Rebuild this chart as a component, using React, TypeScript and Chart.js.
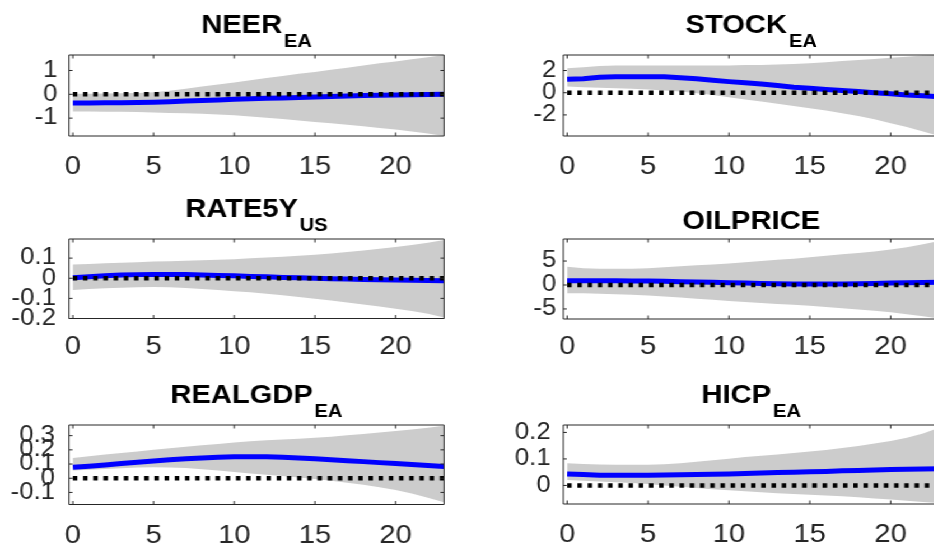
import React, { useEffect, useRef } from "react";
import { Chart, registerables } from "chart.js";

Chart.register(...registerables);

// ---------------- data ----------------
const horizon = [0, 1, 2, 3, 4, 5, 6, 7, 8, 9, 10, 11, 12, 13, 14, 15, 16, 17, 18, 19, 20, 21, 22, 23];
const xTickValues = [0, 5, 10, 15, 20];

const neerMid = [-0.36, -0.36, -0.35, -0.35, -0.34, -0.33, -0.31, -0.28, -0.26, -0.24, -0.21, -0.19, -0.17, -0.15, -0.13, -0.11, -0.09, -0.07, -0.05, -0.04, -0.03, -0.02, -0.01, 0.0];
const neerUp = [0.02, 0.02, 0.03, 0.04, 0.05, 0.09, 0.15, 0.23, 0.33, 0.41, 0.5, 0.59, 0.68, 0.77, 0.86, 0.94, 1.03, 1.12, 1.21, 1.3, 1.38, 1.47, 1.56, 1.65];
const neerLo = [-0.72, -0.72, -0.73, -0.73, -0.74, -0.76, -0.78, -0.8, -0.82, -0.85, -0.88, -0.93, -0.98, -1.04, -1.1, -1.16, -1.22, -1.28, -1.34, -1.41, -1.48, -1.56, -1.65, -1.75];
const neerTicks = [-1, 0, 1];

const stockMid = [1.22, 1.25, 1.4, 1.43, 1.45, 1.45, 1.43, 1.35, 1.25, 1.12, 1.0, 0.9, 0.79, 0.65, 0.5, 0.4, 0.3, 0.2, 0.1, 0.0, -0.1, -0.2, -0.28, -0.36];
const stockUp = [2.2, 2.3, 2.4, 2.45, 2.45, 2.45, 2.45, 2.45, 2.45, 2.45, 2.45, 2.5, 2.5, 2.55, 2.6, 2.65, 2.75, 2.85, 2.95, 3.05, 3.15, 3.25, 3.35, 3.4];
const stockLo = [0.55, 0.5, 0.45, 0.4, 0.35, 0.3, 0.2, 0.1, -0.05, -0.2, -0.4, -0.6, -0.8, -1.0, -1.2, -1.4, -1.6, -1.85, -2.1, -2.4, -2.75, -3.1, -3.5, -3.9];
const stockTicks = [-2, 0, 2];

const rateMid = [0.002, 0.008, 0.012, 0.016, 0.018, 0.019, 0.019, 0.018, 0.016, 0.014, 0.012, 0.009, 0.007, 0.004, 0.002, 0.0, -0.002, -0.004, -0.006, -0.008, -0.009, -0.01, -0.011, -0.012];
const rateUp = [0.068, 0.071, 0.074, 0.077, 0.08, 0.083, 0.085, 0.087, 0.089, 0.092, 0.095, 0.099, 0.103, 0.107, 0.112, 0.117, 0.123, 0.13, 0.138, 0.146, 0.155, 0.165, 0.176, 0.19];
const rateLo = [-0.058, -0.054, -0.05, -0.047, -0.045, -0.044, -0.045, -0.048, -0.053, -0.058, -0.064, -0.07, -0.077, -0.085, -0.093, -0.102, -0.111, -0.12, -0.13, -0.14, -0.151, -0.163, -0.177, -0.195];
const rateTicks = [-0.2, -0.1, 0, 0.1];

const oilMid = [0.9, 0.9, 0.88, 0.87, 0.85, 0.82, 0.78, 0.7, 0.62, 0.55, 0.47, 0.4, 0.33, 0.27, 0.22, 0.2, 0.2, 0.22, 0.27, 0.33, 0.4, 0.47, 0.52, 0.55];
const oilUp = [3.8, 3.5, 3.4, 3.4, 3.4, 3.5, 3.7, 3.9, 4.1, 4.3, 4.5, 4.75, 5.0, 5.25, 5.5, 5.8, 6.1, 6.4, 6.7, 7.0, 7.4, 7.9, 8.5, 9.2];
const oilLo = [-1.7, -1.75, -1.85, -1.95, -2.05, -2.2, -2.4, -2.6, -2.85, -3.1, -3.35, -3.55, -3.75, -3.95, -4.15, -4.35, -4.6, -4.85, -5.1, -5.4, -5.7, -6.1, -6.5, -7.0];
const oilTicks = [-5, 0, 5];

const gdpMid = [0.077, 0.085, 0.094, 0.103, 0.113, 0.122, 0.13, 0.137, 0.143, 0.148, 0.151, 0.152, 0.151, 0.148, 0.143, 0.137, 0.131, 0.124, 0.117, 0.11, 0.103, 0.096, 0.089, 0.083];
const gdpUp = [0.143, 0.155, 0.167, 0.178, 0.189, 0.2, 0.211, 0.222, 0.232, 0.242, 0.252, 0.26, 0.267, 0.273, 0.279, 0.285, 0.293, 0.302, 0.312, 0.322, 0.333, 0.344, 0.356, 0.37];
const gdpLo = [0.055, 0.06, 0.065, 0.07, 0.075, 0.077, 0.076, 0.072, 0.064, 0.054, 0.044, 0.034, 0.025, 0.016, 0.006, -0.005, -0.017, -0.031, -0.046, -0.063, -0.082, -0.108, -0.137, -0.17];
const gdpTicks = [-0.1, 0, 0.1, 0.2, 0.3];

const hicpMid = [0.043, 0.041, 0.038, 0.038, 0.038, 0.038, 0.039, 0.04, 0.041, 0.042, 0.043, 0.045, 0.047, 0.049, 0.05, 0.052, 0.053, 0.055, 0.056, 0.058, 0.06, 0.061, 0.062, 0.063];
const hicpUp = [0.084, 0.081, 0.079, 0.078, 0.078, 0.078, 0.08, 0.084, 0.089, 0.095, 0.101, 0.107, 0.112, 0.117, 0.122, 0.128, 0.134, 0.141, 0.149, 0.158, 0.168, 0.18, 0.196, 0.218];
const hicpLo = [0.021, 0.018, 0.015, 0.012, 0.009, 0.005, 0.0, -0.005, -0.01, -0.014, -0.018, -0.022, -0.026, -0.029, -0.032, -0.035, -0.038, -0.041, -0.045, -0.049, -0.053, -0.058, -0.062, -0.066];
const hicpTicks = [0, 0.1, 0.2];

const zeroLine = [0, 0, 0, 0, 0, 0, 0, 0, 0, 0, 0, 0, 0, 0, 0, 0, 0, 0, 0, 0, 0, 0, 0, 0];

// ---------------- layout ----------------
const K = 1.12; // horizontal stretch of the original figure
const FONT = '"Liberation Sans", Arial, Helvetica, sans-serif';
const AXIS_COLOR = "#262626";

type PanelDef = {
  title: string;
  sub: string;
  mid: number[];
  up: number[];
  lo: number[];
  yTicks: number[];
  yMin: number;
  yMax: number;
  // page-pixel layout
  cL: number; cT: number; cW: number; cH: number;
  pL: number; pT: number; pR: number; pB: number;
  yGap: number; xPad: number;
};

const panels: PanelDef[] = [
  { title: "NEER", sub: "EA", mid: neerMid, up: neerUp, lo: neerLo, yTicks: neerTicks, yMin: -1.75, yMax: 1.65,
    cL: 0, cT: 0, cW: 467, cH: 184, pL: 69, pT: 55, pR: 444, pB: 136, yGap: 11.5, xPad: 18 },
  { title: "STOCK", sub: "EA", mid: stockMid, up: stockUp, lo: stockLo, yTicks: stockTicks, yMin: -3.9, yMax: 3.4,
    cL: 467, cT: 0, cW: 478, cH: 184, pL: 563, pT: 55, pR: 938, pB: 136, yGap: 7, xPad: 18 },
  { title: "RATE5Y", sub: "US", mid: rateMid, up: rateUp, lo: rateLo, yTicks: rateTicks, yMin: -0.2, yMax: 0.195,
    cL: 0, cT: 184, cW: 467, cH: 184, pL: 69, pT: 239, pR: 444, pB: 318.5, yGap: 13, xPad: 15 },
  { title: "OILPRICE", sub: "", mid: oilMid, up: oilUp, lo: oilLo, yTicks: oilTicks, yMin: -7.1, yMax: 9.6,
    cL: 467, cT: 184, cW: 478, cH: 184, pL: 563, pT: 239, pR: 938, pB: 319, yGap: 7, xPad: 15 },
  { title: "REALGDP", sub: "EA", mid: gdpMid, up: gdpUp, lo: gdpLo, yTicks: gdpTicks, yMin: -0.185, yMax: 0.375,
    cL: 0, cT: 368, cW: 467, cH: 184, pL: 69, pT: 425, pR: 444, pB: 504.5, yGap: 14, xPad: 18 },
  { title: "HICP", sub: "EA", mid: hicpMid, up: hicpUp, lo: hicpLo, yTicks: hicpTicks, yMin: -0.07, yMax: 0.228,
    cL: 467, cT: 368, cW: 478, cH: 184, pL: 563, pT: 425, pR: 938, pB: 504, yGap: 12.5, xPad: 18 },
];

const X_MIN = -0.24;
const X_MAX = 23;

const framePlugin = {
  id: "matlabFrame",
  afterDatasetsDraw(chart: any) {
    const { ctx, chartArea } = chart;
    const xs = chart.scales.x;
    const ys = chart.scales.y;
    const { left, right, top, bottom } = chartArea;
    ctx.save();
    ctx.strokeStyle = AXIS_COLOR;
    ctx.lineWidth = 1;
    ctx.beginPath();
    ctx.rect(left, top, right - left, bottom - top);
    ctx.stroke();
    const tl = 3.5;
    ctx.beginPath();
    for (const t of xs.ticks) {
      const px = xs.getPixelForValue(t.value);
      ctx.moveTo(px, bottom);
      ctx.lineTo(px, bottom - tl);
      ctx.moveTo(px, top);
      ctx.lineTo(px, top + tl);
    }
    for (const t of ys.ticks) {
      const py = ys.getPixelForValue(t.value);
      ctx.moveTo(left, py);
      ctx.lineTo(left + tl / K, py);
      ctx.moveTo(right, py);
      ctx.lineTo(right - tl / K, py);
    }
    ctx.stroke();
    ctx.restore();
  },
  afterDraw(chart: any, _args: any, opts: any) {
    const { ctx, chartArea } = chart;
    const main: string = opts.title;
    const sub: string = opts.sub;
    ctx.save();
    ctx.fillStyle = "#000";
    ctx.textAlign = "left";
    ctx.textBaseline = "alphabetic";
    ctx.font = `bold 26px ${FONT}`;
    const mw = ctx.measureText(main).width;
    ctx.font = `bold 18px ${FONT}`;
    const sw = sub ? ctx.measureText(sub).width : 0;
    const gap = sub ? 1.5 : 0;
    const total = mw + gap + sw;
    const cx = (chartArea.left + chartArea.right) / 2;
    const x0 = cx - total / 2;
    const mainBase = sub ? chartArea.top - 22.5 : chartArea.top - 10;
    ctx.font = `bold 26px ${FONT}`;
    ctx.fillText(main, x0, mainBase);
    if (sub) {
      ctx.font = `bold 18px ${FONT}`;
      ctx.fillText(sub, x0 + mw + gap, chartArea.top - 8.5);
    }
    ctx.restore();
  },
};

function toPts(arr: number[]) {
  return horizon.map((t, i) => ({ x: t, y: arr[i] }));
}

function Panel({ p }: { p: PanelDef }) {
  const ref = useRef<HTMLCanvasElement | null>(null);
  useEffect(() => {
    if (!ref.current) return;
    const yAxisW = (p.pL - p.cL) / K;
    const rightPad = (p.cL + p.cW - p.pR) / K;
    const topPad = p.pT - p.cT;
    const xAxisH = p.cT + p.cH - p.pB;
    const chart = new Chart(ref.current, {
      type: "line",
      data: {
        datasets: [
          { label: "zero", data: toPts(zeroLine), borderColor: "#000000", borderWidth: 4.5, borderDash: [4, 5.1],
            borderCapStyle: "butt", pointRadius: 0, fill: false, order: 0, tension: 0 },
          { label: "median", data: toPts(p.mid), borderColor: "#0000ff", borderWidth: 5, pointRadius: 0,
            fill: false, order: 1, tension: 0 },
          { label: "lower", data: toPts(p.lo), borderColor: "rgba(0,0,0,0)", borderWidth: 0, pointRadius: 0,
            fill: false, order: 3, tension: 0 },
          { label: "upper", data: toPts(p.up), borderColor: "rgba(0,0,0,0)", borderWidth: 0, pointRadius: 0,
            backgroundColor: "#cccccc", fill: 2, order: 2, tension: 0 },
        ],
      } as any,
      options: {
        animation: false,
        responsive: true,
        maintainAspectRatio: false,
        events: [],
        layout: { padding: { top: topPad, right: rightPad, bottom: 0, left: 0 } },
        plugins: {
          legend: { display: false },
          tooltip: { enabled: false },
          title: { display: false },
          matlabFrame: { title: p.title, sub: p.sub },
        } as any,
        scales: {
          x: {
            type: "linear",
            min: X_MIN,
            max: X_MAX,
            grid: { display: false, drawTicks: false },
            border: { display: false },
            afterBuildTicks: (s: any) => {
              s.ticks = xTickValues.map((v) => ({ value: v }));
            },
            afterFit: (s: any) => {
              s.height = xAxisH;
            },
            ticks: {
              autoSkip: false,
              maxRotation: 0,
              minRotation: 0,
              padding: p.xPad,
              color: AXIS_COLOR,
              font: { family: FONT, size: 26, lineHeight: 1 },
              callback: (v: any) => String(v),
            },
          },
          y: {
            type: "linear",
            min: p.yMin,
            max: p.yMax,
            grid: { display: false, drawTicks: false },
            border: { display: false },
            afterBuildTicks: (s: any) => {
              s.ticks = p.yTicks.map((v) => ({ value: v }));
            },
            afterFit: (s: any) => {
              s.width = yAxisW;
            },
            ticks: {
              autoSkip: false,
              padding: p.yGap / K,
              color: AXIS_COLOR,
              font: { family: FONT, size: 23, lineHeight: 1 },
              callback: (v: any) => String(v),
            },
          },
        },
      } as any,
      plugins: [framePlugin as any],
    });
    return () => chart.destroy();
  }, [p]);
  return (
    <div
      style={{
        position: "absolute",
        left: p.cL / K,
        top: p.cT,
        width: p.cW / K,
        height: p.cH,
      }}
    >
      <canvas ref={ref} />
    </div>
  );
}

export default function App() {
  return (
    <div
      style={{
        position: "fixed",
        left: 0,
        top: 0,
        width: 934,
        height: 552,
        overflow: "hidden",
        background: "#ffffff",
      }}
    >
      <div
        style={{
          position: "absolute",
          left: 0,
          top: 0,
          width: 945 / K,
          height: 552,
          transform: `scaleX(${K})`,
          transformOrigin: "0 0",
        }}
      >
        {panels.map((p) => (
          <Panel key={p.title} p={p} />
        ))}
      </div>
    </div>
  );
}
